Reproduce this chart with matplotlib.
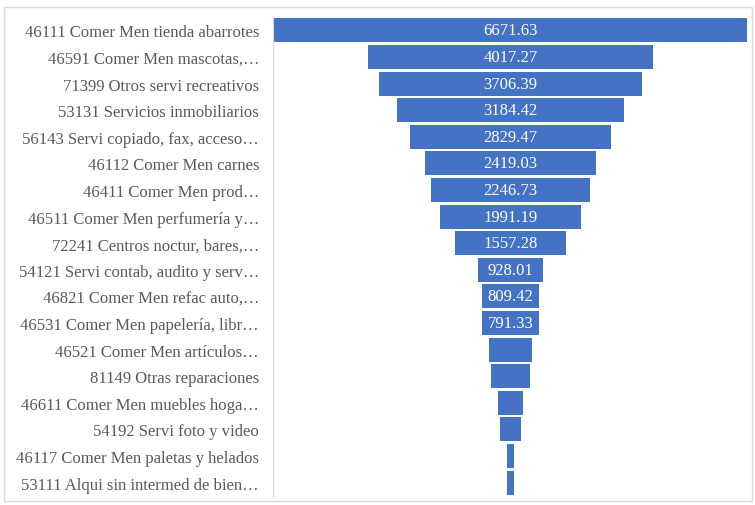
import matplotlib.pyplot as plt
from matplotlib.patches import Rectangle

# --- data ---
categories = [
    "46111 Comer Men tienda abarrotes",
    "46591 Comer Men mascotas,…",
    "71399 Otros servi recreativos",
    "53131 Servicios inmobiliarios",
    "56143 Servi copiado, fax, acceso…",
    "46112 Comer Men carnes",
    "46411 Comer Men prod…",
    "46511 Comer Men perfumería y…",
    "72241 Centros noctur, bares,…",
    "54121 Servi contab, audito y serv…",
    "46821 Comer Men refac auto,…",
    "46531 Comer Men papelería, libr…",
    "46521 Comer Men artículos…",
    "81149 Otras reparaciones",
    "46611 Comer Men muebles hoga…",
    "54192 Servi foto y video",
    "46117 Comer Men paletas y helados",
    "53111 Alqui sin intermed de bien…",
]
values = [6671.63, 4017.27, 3706.39, 3184.42, 2829.47, 2419.03, 2246.73,
          1991.19, 1557.28, 928.01, 809.42, 791.33, 593.0, 555.0, 361.0,
          306.0, 104.0, 85.0]
# only the first rows carry a visible value label
n_labelled = 12

bar_color = "#4472C4"
text_color = "#595959"
plt.rcParams["font.family"] = ["Liberation Serif", "DejaVu Serif"]

fig = plt.figure(figsize=(7.55, 5.06), dpi=100)
W, H = 755, 506
ax = fig.add_axes([273 / W, 1 - 497 / H, (748 - 273) / W, (497 - 18) / H])

ypos = list(range(len(values)))
lefts = [-v / 2 for v in values]
ax.barh(ypos, values, left=lefts, height=0.9, color=bar_color)

for i in range(n_labelled):
    ax.text(0, i, f"{values[i]:.2f}", ha="center", va="center",
            color="white", fontsize=12)

vmax = max(values)
ax.set_xlim(-vmax / 2 * 1.003, vmax / 2 * 1.003)
ax.set_ylim(len(values) - 0.5, -0.5)
ax.set_yticks(ypos)
ax.set_yticklabels(categories, fontsize=12, color=text_color)
ax.tick_params(axis="y", length=0, pad=10)
ax.set_xticks([])
for side in ["top", "right", "bottom"]:
    ax.spines[side].set_visible(False)
ax.spines["left"].set_color("#d9d9d9")

# light frame around the whole chart
fig.patches.append(Rectangle((4 / W, 4 / H), 748 / W, 494 / H,
                             transform=fig.transFigure, fill=False,
                             edgecolor="#d9d9d9", linewidth=1))

fig.savefig("out.png", dpi=100)
